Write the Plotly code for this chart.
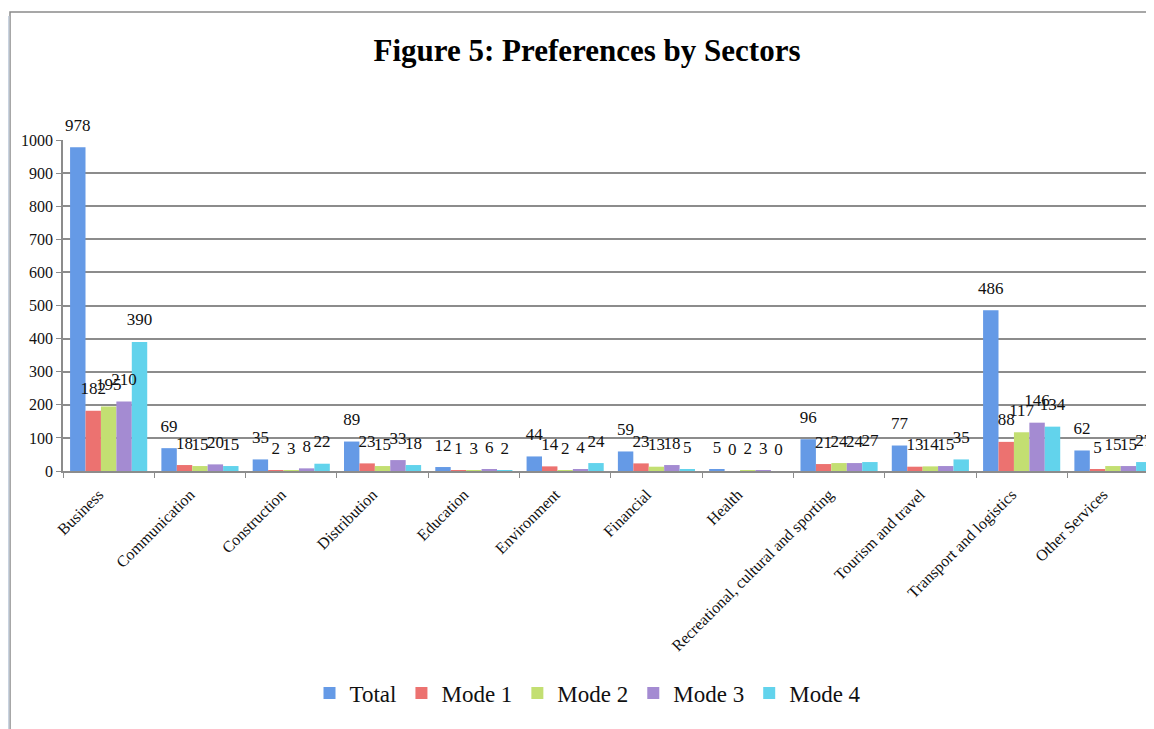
import plotly.graph_objects as go

categories = ["Business", "Communication", "Construction", "Distribution", "Education",
              "Environment", "Financial", "Health", "Recreational, cultural and sporting",
              "Tourism and travel", "Transport and logistics", "Other Services"]
total = [978, 69, 35, 89, 12, 44, 59, 5, 96, 77, 486, 62]
mode1 = [182, 18, 2, 23, 1, 14, 23, 0, 21, 13, 88, 5]
mode2 = [195, 15, 3, 15, 3, 2, 13, 2, 24, 14, 117, 15]
mode3 = [210, 20, 8, 33, 6, 4, 18, 3, 24, 15, 146, 15]
mode4 = [390, 15, 22, 18, 2, 24, 5, 0, 27, 35, 134, 27]
series_names = ["Total", "Mode 1", "Mode 2", "Mode 3", "Mode 4"]
series_values = [total, mode1, mode2, mode3, mode4]
colors = ["#659ae6", "#ec7270", "#c3df72", "#a48bd2", "#62d3ec"]
y_ticks = [0, 100, 200, 300, 400, 500, 600, 700, 800, 900, 1000]

FONT = "Liberation Serif"
OFF = 8  # browser body margin
W, H = 1154 - OFF, 729 - OFF
# target page pixels
PL, PB, PT = 63, 471, 140   # plot left, plot bottom (y=0), plot top (y=1000)
L, T = PL - OFF, PT - OFF
B = H - (PB - OFF)
R = 0
pw, ph = W - L - R, H - T - B
cat_w = 91.3
right_edge_page = 1154
x_hi = 11.5 - (PL + 12 * cat_w - right_edge_page) / cat_w

def px_x(p):
    return (p - OFF - L) / pw

def px_y(p):
    return (H - B - (p - OFF)) / ph

fig = go.Figure()
for name, vals, col in zip(series_names, series_values, colors):
    fig.add_trace(go.Bar(
        x=categories, y=vals, name=name, offsetgroup=name,
        marker=dict(color=col, line=dict(width=0)),
        cliponaxis=False,
    ))
for name, vals in zip(series_names, series_values):
    fig.add_trace(go.Scatter(
        x=categories, y=vals, name=name, offsetgroup=name,
        mode="markers+text", showlegend=False, hoverinfo="skip",
        marker=dict(size=18, opacity=0),
        text=[str(v) for v in vals], textposition="top center",
        textfont=dict(family=FONT, size=17, color="#111111"),
        cliponaxis=False,
    ))

fig.update_layout(
    width=W, height=H,
    margin=dict(l=L, r=R, t=T, b=B, autoexpand=False),
    paper_bgcolor="white", plot_bgcolor="white",
    barmode="group", bargap=0.155, bargroupgap=0,
    scattermode="group", scattergap=0.155,
    font=dict(family=FONT, color="#111111"),
    title=dict(text="<b>Figure 5: Preferences by Sectors</b>",
               font=dict(family=FONT, size=31, color="#000000"),
               x=(587 - OFF) / W, xanchor="center", y=1 - (50 - OFF) / H, yanchor="middle",
               xref="container", yref="container"),
    showlegend=True,
    legend=dict(orientation="h", x=px_x(588), xanchor="center",
                y=px_y(693), yanchor="middle",
                font=dict(family=FONT, size=23, color="#111111"),
                itemwidth=30, tracegroupgap=0, bgcolor="rgba(0,0,0,0)"),
    xaxis=dict(range=[-0.5, x_hi], showgrid=False,
               tickangle=-45, tickfont=dict(family=FONT, size=16, color="#111111"),
               ticks="outside", tickson="boundaries", ticklen=5, tickcolor="#8c8c8c",
               ticklabelshift=-10, ticklabelstandoff=6,
               showline=True, linecolor="#8c8c8c", linewidth=2, zeroline=False,
               fixedrange=True),
    yaxis=dict(range=[0, 1000], tickvals=y_ticks, showgrid=True,
               gridcolor="#8c8c8c", gridwidth=1.5,
               tickfont=dict(family=FONT, size=16, color="#111111"),
               ticks="outside", ticklen=5, tickcolor="#8c8c8c",
               showline=True, linecolor="#8c8c8c", linewidth=1.5,
               zeroline=False, fixedrange=True),
    shapes=[
        dict(type="rect", xref="paper", yref="paper",
             x0=px_x(10), x1=px_x(1154 + 20), y0=px_y(729 + 20), y1=px_y(12),
             line=dict(color="#8a8a8a", width=1.5), fillcolor="rgba(0,0,0,0)",
             layer="below"),
        dict(type="line", xref="paper", yref="paper",
             x0=px_x(8), x1=px_x(8), y0=px_y(729 + 20), y1=px_y(16),
             line=dict(color="#c9d3e0", width=3), layer="below"),
    ],
)

fig.write_html("out.html")
